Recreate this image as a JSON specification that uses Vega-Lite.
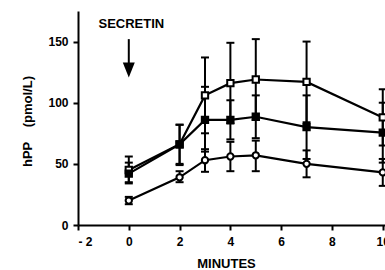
{
  "$schema": "https://vega.github.io/schema/vega-lite/v6.json",
  "width": 320,
  "height": 214,
  "autosize": {"type": "none"},
  "padding": {"left": 78, "top": 11, "right": 0, "bottom": 45},
  "background": "white",
  "config": {
    "view": {"stroke": null},
    "axis": {
      "grid": false,
      "domainColor": "black",
      "domainWidth": 2,
      "tickColor": "black",
      "tickWidth": 2,
      "tickSize": 5,
      "labelFont": "Liberation Sans",
      "labelFontWeight": "bold",
      "labelFontSize": 12,
      "labelColor": "black",
      "titleFont": "Liberation Sans",
      "titleFontWeight": "bold",
      "titleColor": "black"
    }
  },
  "datasets": {
    "series": [
      {"series": "A", "t": 0, "v": 45, "lo": 35, "hi": 56},
      {"series": "A", "t": 2, "v": 66, "lo": 50, "hi": 82},
      {"series": "A", "t": 3, "v": 106, "lo": 75, "hi": 137},
      {"series": "A", "t": 4, "v": 116, "lo": 83, "hi": 149},
      {"series": "A", "t": 5, "v": 119, "lo": 86, "hi": 152},
      {"series": "A", "t": 7, "v": 117, "lo": 84, "hi": 150},
      {"series": "A", "t": 10, "v": 88, "lo": 65, "hi": 111},
      {"series": "B", "t": 0, "v": 42, "lo": 34, "hi": 51},
      {"series": "B", "t": 2, "v": 66, "lo": 49, "hi": 82},
      {"series": "B", "t": 3, "v": 86, "lo": 60, "hi": 113},
      {"series": "B", "t": 4, "v": 86, "lo": 70, "hi": 102},
      {"series": "B", "t": 5, "v": 88.5, "lo": 71, "hi": 106},
      {"series": "B", "t": 7, "v": 80, "lo": 54, "hi": 106},
      {"series": "B", "t": 10, "v": 75.5, "lo": 51, "hi": 100},
      {"series": "C", "t": 0, "v": 20, "lo": 17, "hi": 23},
      {"series": "C", "t": 2, "v": 39, "lo": 35, "hi": 44},
      {"series": "C", "t": 3, "v": 53, "lo": 43.5, "hi": 62},
      {"series": "C", "t": 4, "v": 56, "lo": 44, "hi": 68},
      {"series": "C", "t": 5, "v": 57, "lo": 44, "hi": 69},
      {"series": "C", "t": 7, "v": 50, "lo": 39, "hi": 61},
      {"series": "C", "t": 10, "v": 43, "lo": 32, "hi": 54}
    ],
    "note": [{"label": "SECRETIN", "t": 0.1, "v": 164, "v0": 152, "v1": 128, "vh": 126.7}]
  },
  "layer": [
    {
      "data": {"name": "series"},
      "mark": {"type": "line", "color": "black", "strokeWidth": 2.2},
      "encoding": {
        "x": {
          "field": "t", "type": "quantitative",
          "scale": {"domain": [-2, 10.6], "nice": false, "zero": false},
          "axis": {
            "values": [-2, 0, 2, 4, 6, 8, 10],
            "labelExpr": "datum.value < 0 ? '- 2' : datum.label",
            "labelPadding": 6,
            "title": "MINUTES",
            "titleFontSize": 13,
            "titleAnchor": "start",
            "titleAlign": "center",
            "titleX": 148,
            "titleY": 38,
            "titleBaseline": "middle"
          }
        },
        "y": {
          "field": "v", "type": "quantitative",
          "scale": {"domain": [0, 175], "nice": false},
          "axis": {
            "values": [0, 25, 50, 75, 100, 125, 150],
            "labelExpr": "datum.value % 50 == 0 ? datum.label : ''",
            "labelPadding": 5,
            "title": "hPP\u00a0\u00a0\u00a0 (pmol/L)",
            "titleFontSize": 13,
            "titleAngle": -90,
            "titleAlign": "center",
            "titleAnchor": "start",
            "titleX": -51,
            "titleY": 110,
            "titleBaseline": "middle"
          }
        },
        "detail": {"field": "series"}
      }
    },
    {
      "data": {"name": "series"},
      "mark": {"type": "rule", "color": "black", "strokeWidth": 2},
      "encoding": {
        "x": {"field": "t", "type": "quantitative"},
        "y": {"field": "lo", "type": "quantitative"},
        "y2": {"field": "hi"}
      }
    },
    {
      "data": {"name": "series"},
      "mark": {"type": "point", "shape": "M-1,0L1,0", "size": 64, "filled": false, "stroke": "black", "strokeWidth": 2, "opacity": 1},
      "encoding": {
        "x": {"field": "t", "type": "quantitative"},
        "y": {"field": "lo", "type": "quantitative"}
      }
    },
    {
      "data": {"name": "series"},
      "mark": {"type": "point", "shape": "M-1,0L1,0", "size": 64, "filled": false, "stroke": "black", "strokeWidth": 2, "opacity": 1},
      "encoding": {
        "x": {"field": "t", "type": "quantitative"},
        "y": {"field": "hi", "type": "quantitative"}
      }
    },
    {
      "data": {"name": "series"},
      "mark": {"type": "point", "stroke": "black", "strokeWidth": 2, "opacity": 1, "size": 40},
      "encoding": {
        "x": {"field": "t", "type": "quantitative"},
        "y": {"field": "v", "type": "quantitative"},
        "shape": {
          "field": "series", "type": "nominal",
          "scale": {"domain": ["A", "B", "C"], "range": ["square", "square", "circle"]},
          "legend": null
        },
        "fill": {
          "field": "series", "type": "nominal",
          "scale": {"domain": ["A", "B", "C"], "range": ["white", "black", "white"]},
          "legend": null
        }
      }
    },
    {
      "data": {"name": "note"},
      "mark": {"type": "text", "font": "Liberation Sans", "fontWeight": "bold", "fontSize": 13, "color": "black", "align": "center", "baseline": "middle"},
      "encoding": {
        "x": {"field": "t", "type": "quantitative"},
        "y": {"field": "v", "type": "quantitative"},
        "text": {"field": "label"}
      }
    },
    {
      "data": {"name": "note"},
      "mark": {"type": "rule", "color": "black", "strokeWidth": 2},
      "encoding": {
        "x": {"datum": 0, "type": "quantitative"},
        "y": {"field": "v0", "type": "quantitative"},
        "y2": {"field": "v1"}
      }
    },
    {
      "data": {"name": "note"},
      "mark": {"type": "point", "shape": "M-0.8,-1L0.8,-1L0,1Z", "size": 225, "filled": true, "color": "black", "opacity": 1},
      "encoding": {
        "x": {"datum": 0, "type": "quantitative"},
        "y": {"field": "vh", "type": "quantitative"}
      }
    }
  ]
}
